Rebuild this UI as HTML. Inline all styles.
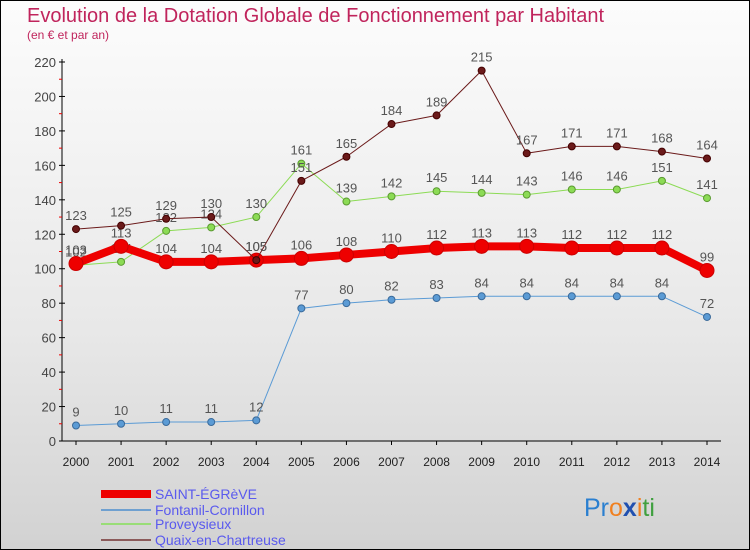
<!DOCTYPE html>
<html><head><meta charset="utf-8"><style>
body{margin:0}
#c{width:750px;height:550px;position:relative;box-sizing:border-box;border:1px solid #000;background:linear-gradient(#fcfcfc,#e8e8e8 60%,#d2d2d2);font-family:"Liberation Sans",sans-serif;overflow:hidden}
svg text{font-family:"Liberation Sans",sans-serif}
</style></head><body>
<div id="c">
<svg id="s" width="750" height="550">
<text x="26" y="21" font-size="20" fill="#c0245c">Evolution de la Dotation Globale de Fonctionnement par Habitant</text>
<text x="26" y="38" font-size="12" fill="#c0245c">(en € et par an)</text>
<g>
<rect x="100" y="489" width="50" height="8" fill="#ee0000"/>
<text x="154" y="498" font-size="14" fill="#5a5aee">SAINT-ÉGRèVE</text>
<rect x="100" y="508" width="50" height="2" fill="#6fa0d0"/>
<text x="154" y="514" font-size="14" fill="#5a5aee">Fontanil-Cornillon</text>
<rect x="100" y="522" width="50" height="2" fill="#99dd77"/>
<text x="154" y="528" font-size="14" fill="#5a5aee">Proveysieux</text>
<rect x="100" y="538" width="50" height="2" fill="#8b5a5a"/>
<text x="154" y="544" font-size="14" fill="#5a5aee">Quaix-en-Chartreuse</text>
</g>
<text x="583" y="515" font-size="25"><tspan fill="#2a7fd0">Pr</tspan><tspan fill="#f08020">o</tspan><tspan fill="#2050b0" font-weight="bold">x</tspan><tspan fill="#f08020">i</tspan><tspan fill="#40a040">ti</tspan></text>
</svg>
</div>
<script>
const years=[2000,2001,2002,2003,2004,2005,2006,2007,2008,2009,2010,2011,2012,2013,2014];
const saint=[103,113,104,104,105,106,108,110,112,113,113,112,112,112,99];
const fontanil=[9,10,11,11,12,77,80,82,83,84,84,84,84,84,72];
const provey=[102,104,122,124,130,161,139,142,145,144,143,146,146,151,141];
const quaix=[123,125,129,130,105,151,165,184,189,215,167,171,171,168,164];
const yTicks=[0,20,40,60,80,100,120,140,160,180,200,220];
const NS="http://www.w3.org/2000/svg",s=document.getElementById('s');
const X=i=>75+i*(631/14), Y=v=>440-v*(379/220);
function mk(t,a,p){const e=document.createElementNS(NS,t);for(const k in a)e.setAttribute(k,a[k]);(p||s).appendChild(e);return e;}
const ax=mk('g',{});


mk('line',{x1:61,y1:58,x2:61,y2:440,stroke:'#000'},ax);
mk('line',{x1:61,y1:440,x2:720,y2:440,stroke:'#000'},ax);
yTicks.forEach(v=>{
 mk('line',{x1:58,y1:Y(v),x2:64,y2:Y(v),stroke:'#000'},ax);
 if(v<220)mk('line',{x1:58,y1:Y(v+10),x2:61,y2:Y(v+10),stroke:'#e00'},ax);
 const t=mk('text',{x:55,y:Y(v)+5,'font-size':13,fill:'#444','text-anchor':'end'},ax);t.textContent=v;
 
 
});
years.forEach((yr,i)=>{
 mk('line',{x1:X(i),y1:440,x2:X(i),y2:444,stroke:'#000'},ax);
 const t=mk('text',{x:X(i),y:465,'font-size':12,fill:'#222','text-anchor':'middle'},ax);t.textContent=yr;
 
 
});
function series(name,data,color,w,r,stroke){
 const g=mk('g',{});
 
 
 mk('polyline',{points:data.map((v,i)=>X(i)+','+Y(v)).join(' '),fill:'none',stroke:color,'stroke-width':w,'stroke-linejoin':'round'},g);
 data.forEach((v,i)=>{
  const c=mk('circle',{cx:X(i),cy:Y(v),r:r,fill:color,stroke:stroke,'stroke-width':1},g);
  
  
  const t=mk('text',{x:X(i),y:Y(v)-9,'font-size':13,fill:'#555','text-anchor':'middle'},g);t.textContent=v;
  
  
 });
}
series('fontanil',fontanil,'#5b9bd5',1,3.5,'#3a6a9a');
series('proveysieux',provey,'#8cdb55',1,3.5,'#5a9a30');
series('saint-egreve',saint,'#ee0000',8,7,'#cc0000');
series('quaix',quaix,'#6b1a1a',1,3.5,'#400');
</script>
</body></html>
